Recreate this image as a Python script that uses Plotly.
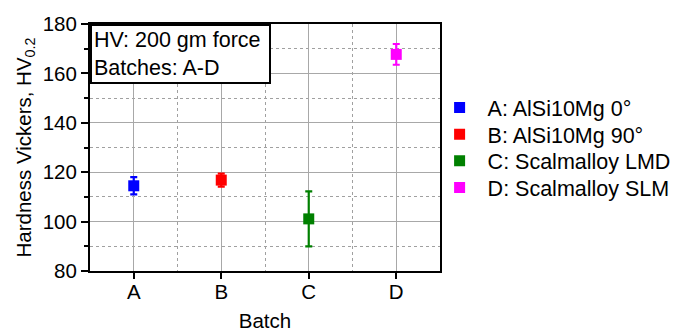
import plotly.graph_objects as go

# Vickers hardness per batch (mean and standard deviation)
batches = ["A", "B", "C", "D"]
names = ["A: AlSi10Mg 0°", "B: AlSi10Mg 90°", "C: Scalmalloy LMD", "D: Scalmalloy SLM"]
hardness = [114.5, 116.8, 101.1, 167.7]
hardness_sd = [3.5, 2.6, 11.1, 4.2]
colors = ["#0000ff", "#ff0000", "#008000", "#ff00ff"]

FONT = "Arial, Liberation Sans, Helvetica, sans-serif"
legend_ids = ["legend", "legend2", "legend3", "legend4"]
legend_rows = [0.662, 0.554, 0.446, 0.338]

fig = go.Figure()
for i, (n, h, sd, c) in enumerate(zip(names, hardness, hardness_sd, colors)):
    fig.add_trace(go.Scatter(
        x=[i], y=[h], name=n, mode="markers", legend=legend_ids[i],
        marker=dict(symbol="square", size=11, color=c),
        error_y=dict(type="data", array=[sd], visible=True,
                     thickness=2.2, width=3.5, color=c),
    ))

grid_major = "#a8a8a8"
grid_minor = "#a0a0a0"

fig.update_xaxes(
    range=[-0.5, 3.5], tickmode="array", tickvals=list(range(len(batches))),
    ticktext=batches, ticks="outside", ticklen=6, tickwidth=2, tickcolor="black",
    ticklabelstandoff=-5, automargin=False,
    showline=True, linecolor="black", linewidth=2, mirror=True,
    showgrid=True, gridcolor=grid_major, gridwidth=1,
    minor=dict(tickmode="linear", tick0=0.5, dtick=1, showgrid=True,
               gridcolor=grid_minor, griddash="dot", gridwidth=1, ticks=""),
    title=dict(text="Batch", font=dict(size=20.5, family=FONT, color="black"), standoff=15),
    tickfont=dict(size=20.5, family=FONT, color="black"),
    zeroline=False,
)
fig.update_yaxes(
    range=[80, 180], tickmode="linear", tick0=80, dtick=20,
    ticks="outside", ticklen=7, tickwidth=2, tickcolor="black",
    automargin=False,
    showline=True, linecolor="black", linewidth=2, mirror=True,
    showgrid=True, gridcolor=grid_major, gridwidth=1,
    minor=dict(tickmode="linear", tick0=90, dtick=20, showgrid=True,
               gridcolor=grid_minor, griddash="dot", gridwidth=1,
               ticks="outside", ticklen=4, tickwidth=2, tickcolor="black"),
    title=dict(text="Hardness Vickers, HV<sub>0.2</sub>",
               font=dict(size=20.5, family=FONT, color="black"), standoff=6),
    tickfont=dict(size=20.5, family=FONT, color="black"),
    zeroline=False,
)

fig.add_annotation(
    xref="paper", yref="paper", x=0, y=1, xanchor="left", yanchor="top",
    text="HV: 200 gm force<br>Batches: A-D", align="left", showarrow=False,
    font=dict(size=21.5, family=FONT, color="black"), width=173,
    bgcolor="white", bordercolor="black", borderwidth=2, borderpad=2,
)

legend_style = dict(x=0.976, xanchor="left", yanchor="middle",
                    font=dict(size=21.5, family=FONT, color="black"),
                    bgcolor="rgba(0,0,0,0)", borderwidth=0, itemwidth=46)
layout_legends = {lid: dict(legend_style, y=yr) for lid, yr in zip(legend_ids, legend_rows)}

fig.update_layout(
    width=673, height=332,
    margin=dict(l=90, r=233, t=24, b=61, autoexpand=False),
    paper_bgcolor="white", plot_bgcolor="white",
    showlegend=True,
    font=dict(family=FONT, color="black"),
    **layout_legends,
)

fig.write_html("out.html")
